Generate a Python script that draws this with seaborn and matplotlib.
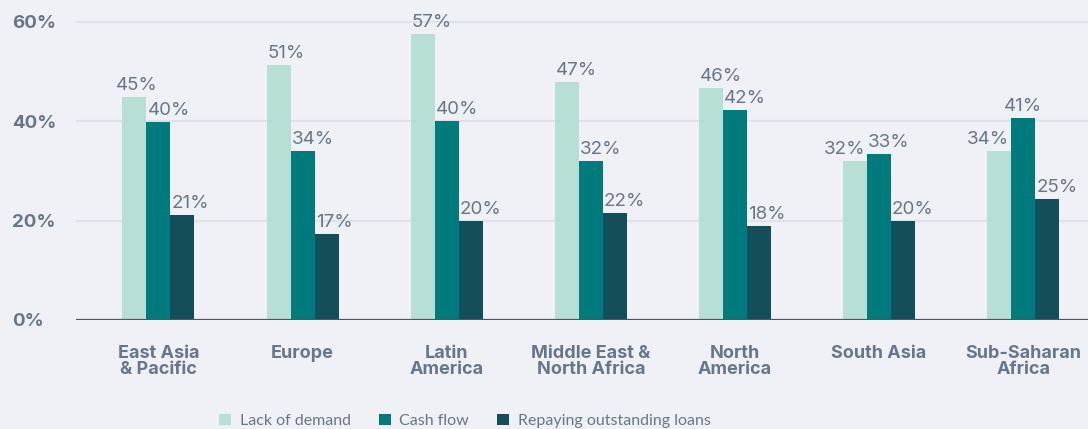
import pandas as pd
import matplotlib
matplotlib.use("Agg")
import matplotlib.pyplot as plt
import seaborn as sns

#-------------------------------------------------------------------------------
#   data (in %)
#-------------------------------------------------------------------------------
regions = ["East Asia\n& Pacific", "Europe", "Latin\nAmerica", "Middle East &\nNorth Africa",
           "North\nAmerica", "South Asia", "Sub-Saharan\nAfrica"]
reasons = ["Lack of demand", "Cash flow", "Repaying outstanding loans"]

lack_of_demand = [44.9, 51.3, 57.5, 47.9, 46.7, 32.0, 34.0]
cash_flow = [39.9, 34.0, 40.1, 32.0, 42.3, 33.4, 40.7]
repaying_loans = [21.1, 17.3, 19.9, 21.6, 18.9, 19.9, 24.4]

lack_labels = ["45%", "51%", "57%", "47%", "46%", "32%", "34%"]
cash_labels = ["40%", "34%", "40%", "32%", "42%", "33%", "41%"]
loans_labels = ["21%", "17%", "20%", "22%", "18%", "20%", "25%"]

y_ticks = [0, 20, 40, 60]
y_tick_labels = ["0%", "20%", "40%", "60%"]

#-------------------------------------------------------------------------------
#   style
#-------------------------------------------------------------------------------
BG = "#f0f1f6"
TXT = "#67778b"
colors = ["#b7dfd6", "#007a7c", "#144f59"]

sns.set_style("white")
plt.rcParams["font.family"] = ["Inter", "DejaVu Sans"]

df = pd.DataFrame({
    "region": regions * 3,
    "reason": [reasons[0]] * 7 + [reasons[1]] * 7 + [reasons[2]] * 7,
    "share": lack_of_demand + cash_flow + repaying_loans,
})

fig = plt.figure(figsize=(10.88, 4.29), dpi=100, facecolor=BG)
W, H = 1088, 429
ax = fig.add_axes([76 / W, (H - 320) / H, 1 - 76 / W, (320 - 12) / H])
ax.set_facecolor(BG)

sns.barplot(data=df, x="region", y="share", hue="reason", hue_order=reasons,
            palette=colors, width=0.5, gap=0, saturation=1, linewidth=0,
            ax=ax)
handles, labels = ax.get_legend_handles_labels()
ax.get_legend().remove()

ax.set_ylim(0, 62)
ax.set_xlim(-0.572, 6.45)
for s in ax.spines.values():
    s.set_visible(False)
ax.axhline(0, color="#4b5866", lw=1.6, zorder=3)
ax.set_yticks(y_ticks)
ax.set_yticklabels(y_tick_labels)
ax.yaxis.grid(True, color="#dfe2e9", lw=1.6)
ax.set_axisbelow(True)
ax.tick_params(axis="y", length=0, pad=46, labelsize=13.5, labelcolor=TXT)
for t in ax.get_yticklabels():
    t.set_horizontalalignment("left")
    t.set_fontweight("bold")
ax.tick_params(axis="x", length=0, pad=18, labelsize=13, labelcolor=TXT)
for t in ax.get_xticklabels():
    t.set_fontweight("bold")
    t.set_linespacing(0.92)
ax.set_xlabel("")
ax.set_ylabel("")

# value labels, left edge on the bar's left edge; a few nudged left (px)
nudge = {(0, 0): -8, (0, 5): -20, (0, 6): -21, (1, 6): -8}
all_labels = [lack_labels, cash_labels, loans_labels]
for k, cont in enumerate(ax.containers):
    for i, bar in enumerate(cont):
        dx = (1 + nudge.get((k, i), 0)) * 0.72
        ax.annotate(all_labels[k][i], xy=(bar.get_x(), bar.get_height()),
                    xytext=(dx, 5), textcoords="offset points",
                    ha="left", va="baseline", fontsize=13.5, color=TXT)

fig.legend(handles, labels, loc="center left", bbox_to_anchor=(219 / W, (H - 421) / H),
           ncol=3, frameon=False, labelcolor=TXT,
           prop={"family": ["Lato", "DejaVu Sans"], "size": 11.5},
           handlelength=0.75, handleheight=0.75, handletextpad=0.55,
           columnspacing=1.75, borderpad=0, borderaxespad=0)

fig.savefig("out.png", dpi=100, facecolor=BG)
